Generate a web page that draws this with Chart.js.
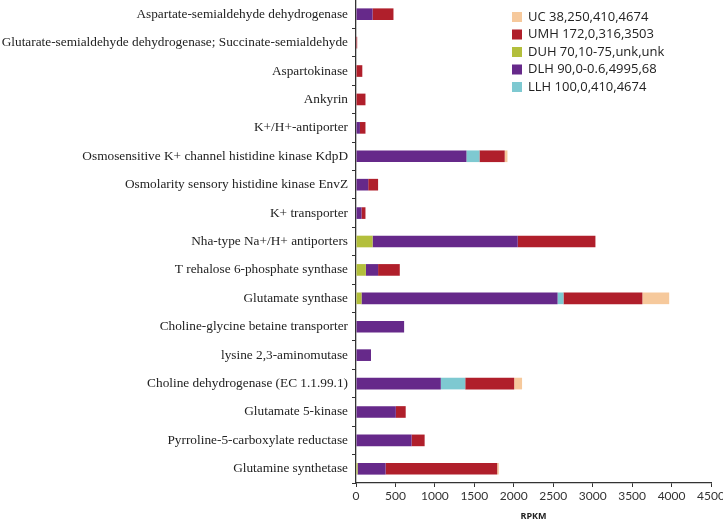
<!DOCTYPE html>
<html>
<head>
<meta charset="utf-8">
<script src="https://cdn.jsdelivr.net/npm/chart.js@4/dist/chart.umd.min.js"></script>
<style>
  html, body { margin: 0; padding: 0; background: #fff; }
  #wrap { width: 723px; height: 522px; position: relative; }
</style>
</head>
<body>
<div id="wrap"><canvas id="rpkmChart"></canvas></div>
<script>
// categories, top to bottom
var genes = [
  "Aspartate-semialdehyde dehydrogenase",
  "Glutarate-semialdehyde dehydrogenase; Succinate-semialdehyde",
  "Aspartokinase",
  "Ankyrin",
  "K+/H+-antiporter",
  "Osmosensitive K+ channel histidine kinase KdpD",
  "Osmolarity sensory histidine kinase EnvZ",
  "K+ transporter",
  "Nha-type Na+/H+ antiporters",
  "T rehalose 6-phosphate synthase",
  "Glutamate synthase",
  "Choline-glycine betaine transporter",
  "lysine 2,3-aminomutase",
  "Choline dehydrogenase (EC 1.1.99.1)",
  "Glutamate 5-kinase",
  "Pyrroline-5-carboxylate reductase",
  "Glutamine synthetase"
];

// series values (RPKM), same order as genes
var duh = [0, 0, 0, 0, 0, 0, 0, 0, 210, 125, 70, 0, 0, 0, 0, 0, 20];
var dlh = [210, 0, 0, 0, 50, 1400, 155, 70, 1840, 155, 2485, 610, 190, 1075, 505, 705, 355];
var llh = [0, 0, 0, 0, 0, 165, 0, 0, 0, 0, 75, 0, 0, 310, 0, 0, 0];
var umh = [265, 15, 80, 120, 70, 320, 125, 50, 985, 275, 1000, 0, 0, 620, 125, 165, 1415];
var uc  = [0, 0, 0, 0, 0, 35, 0, 0, 0, 0, 340, 0, 0, 100, 0, 0, 20];

// stack order left to right
var seriesNames = ["DUH 70,10-75,unk,unk", "DLH 90,0-0.6,4995,68", "LLH 100,0,410,4674",
                   "UMH 172,0,316,3503", "UC 38,250,410,4674"];
// legend order top to bottom (index into seriesNames)
var legendOrder = [4, 3, 0, 1, 2];
var xTicks = [0, 500, 1000, 1500, 2000, 2500, 3000, 3500, 4000, 4500];

var colors = ["#b3bf3c", "#66298a", "#7ec9d1", "#b01f2b", "#f6c99c"];
var seriesData = [duh, dlh, llh, umh, uc];

var boxLegend = {
  id: "boxLegend",
  afterDraw: function (chart) {
    var ctx = chart.ctx;
    ctx.save();
    ctx.font = "13px 'Open Sans'";
    ctx.textBaseline = "middle";
    ctx.textAlign = "left";
    var x = 512, y = 17, step = 17.5;
    legendOrder.forEach(function (i) {
      ctx.fillStyle = colors[i];
      ctx.fillRect(x, y - 5, 10, 10);
      ctx.fillStyle = "#222";
      ctx.fillText(seriesNames[i], x + 16, y);
      y += step;
    });
    ctx.restore();
  }
};

var datasets = [];
for (var i = 0; i < seriesNames.length; i++) {
  datasets.push({
    label: seriesNames[i],
    data: seriesData[i],
    backgroundColor: colors[i],
    borderWidth: 0,
    barPercentage: 0.41,
    categoryPercentage: 1.0
  });
}

new Chart(document.getElementById("rpkmChart"), {
  type: "bar",
  data: { labels: genes, datasets: datasets },
  options: {
    indexAxis: "y",
    responsive: true,
    maintainAspectRatio: false,
    animation: false,
    layout: { padding: { top: 0, right: 12, left: 0, bottom: 0 } },
    plugins: {
      legend: { display: false },
      tooltip: { enabled: false }
    },
    scales: {
      x: {
        stacked: true,
        min: 0,
        max: 4500,
        afterBuildTicks: function (scale) {
          scale.ticks = xTicks.map(function (v) { return { value: v }; });
        },
        afterFit: function (scale) {
          scale.height = 39;
          scale.paddingRight = 0;
          scale.paddingLeft = 0;
        },
        grid: {
          drawOnChartArea: false,
          drawTicks: true,
          tickLength: 4,
          color: "#333"
        },
        border: { display: true, color: "#333", width: 1.3 },
        ticks: {
          color: "#333",
          padding: 2,
          maxRotation: 0,
          font: { family: "Lato", size: 12 },
          callback: function (v) { return String(v); }
        },
        title: {
          display: true,
          text: "RPKM",
          color: "#222",
          padding: { top: 4, bottom: 0 },
          font: { family: "Open Sans", size: 9, weight: "bold" }
        }
      },
      y: {
        stacked: true,
        afterFit: function (scale) {
          scale.width = 356;
          scale.paddingTop = 0;
          scale.paddingBottom = 0;
        },
        grid: {
          drawOnChartArea: false,
          drawTicks: true,
          tickLength: 4,
          offset: true,
          color: "#333"
        },
        border: { display: true, color: "#333", width: 1.3 },
        ticks: {
          color: "#222",
          padding: 4,
          autoSkip: false,
          font: { family: "Liberation Serif", size: 13.3 }
        }
      }
    }
  },
  plugins: [boxLegend]
});
</script>
</body>
</html>
